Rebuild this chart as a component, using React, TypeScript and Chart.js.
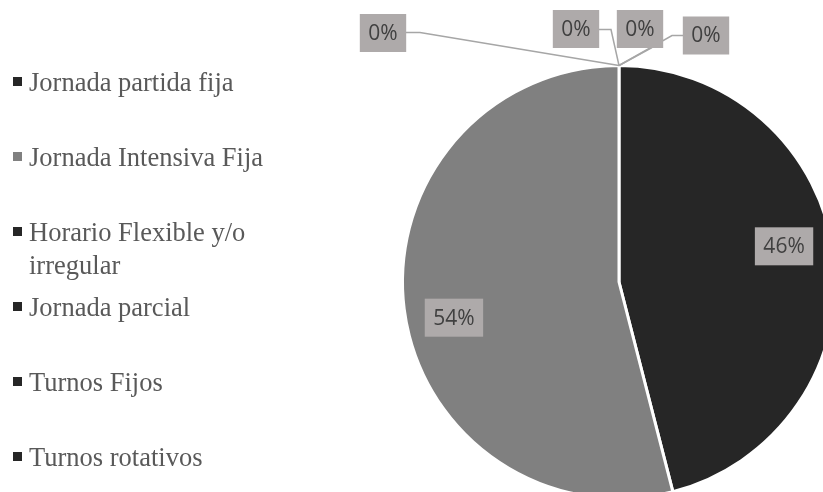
import React, { useEffect, useRef } from "react";
import { Chart, registerables } from "chart.js";

Chart.register(...registerables);

const categories = [
  "Jornada partida fija",
  "Jornada Intensiva Fija",
  "Horario Flexible y/o irregular",
  "Jornada parcial",
  "Turnos Fijos",
  "Turnos rotativos",
];
const shares = [46, 54, 0, 0, 0, 0];
const sliceColors = ["#262626", "#808080", "#262626", "#262626", "#262626", "#262626"];

// layout of the call-out boxes for the zero-valued slices (relative to the point where they sit on the pie rim)
const zeroCallouts = [
  { box: [-236, -32.5], path: [[-199, -33], [-213, -33]] },
  { box: [-43, -36.5], path: [[-8, -36], [-20, -36]] },
  { box: [21, -36.5], path: [[33, -18]] },
  { box: [87, -30], path: [[53, -30], [64, -30]] },
];

function wrapText(ctx: CanvasRenderingContext2D, text: string, maxWidth: number): string[] {
  const words = text.split(" ");
  const lines: string[] = [];
  let cur = "";
  for (const w of words) {
    const test = cur ? cur + " " + w : w;
    if (cur && ctx.measureText(test).width > maxWidth) {
      lines.push(cur);
      cur = w;
    } else {
      cur = test;
    }
  }
  if (cur) lines.push(cur);
  return lines;
}

const sideLegend = {
  id: "sideLegend",
  afterDraw(chart: any) {
    const ctx: CanvasRenderingContext2D = chart.ctx;
    const labels = chart.data.labels as string[];
    const colors = chart.data.datasets[0].backgroundColor as string[];
    ctx.save();
    ctx.font = '26.5px "Liberation Serif", "Times New Roman", serif';
    ctx.textAlign = "left";
    ctx.textBaseline = "alphabetic";
    labels.forEach((label, i) => {
      const top = 77 + i * 75;
      ctx.fillStyle = colors[i];
      ctx.fillRect(13, top, 9, 9);
      ctx.fillStyle = "#595959";
      const lines = wrapText(ctx, label, 242);
      lines.forEach((ln, j) => ctx.fillText(ln, 29, top + 14 + j * 33));
    });
    ctx.restore();
  },
};

function drawBox(ctx: CanvasRenderingContext2D, text: string, cx: number, cy: number) {
  const w = ctx.measureText(text).width + 17;
  const h = 38;
  ctx.fillStyle = "#AEAAAA";
  ctx.fillRect(cx - w / 2, cy - h / 2, w, h);
  ctx.fillStyle = "#404040";
  ctx.fillText(text, cx, cy + 1);
}

const sliceLabels = {
  id: "sliceLabels",
  afterDatasetsDraw(chart: any) {
    const ctx: CanvasRenderingContext2D = chart.ctx;
    const meta = chart.getDatasetMeta(0);
    const values = chart.data.datasets[0].data as number[];
    const total = values.reduce((a, b) => a + b, 0);
    ctx.save();
    ctx.font = '21px "Open Sans", sans-serif';
    ctx.textAlign = "center";
    ctx.textBaseline = "middle";
    const boxes: { text: string; x: number; y: number }[] = [];
    let z = 0;
    meta.data.forEach((arc: any, i: number) => {
      const v = values[i];
      const text = Math.round((v / total) * 100) + "%";
      const { x, y, startAngle, endAngle, outerRadius } = arc.getProps(
        ["x", "y", "startAngle", "endAngle", "outerRadius"],
        true
      );
      if (v > 0) {
        const a = (startAngle + endAngle) / 2 - (5 * Math.PI) / 180;
        const r = outerRadius * 0.78;
        boxes.push({ text, x: x + r * Math.cos(a), y: y + r * Math.sin(a) });
      } else {
        const c = zeroCallouts[z++ % zeroCallouts.length];
        const ax = x + outerRadius * Math.cos(startAngle);
        const ay = y + outerRadius * Math.sin(startAngle);
        ctx.strokeStyle = "#A6A6A6";
        ctx.lineWidth = 1.5;
        ctx.beginPath();
        ctx.moveTo(ax, ay);
        c.path.forEach((p) => ctx.lineTo(ax + p[0], ay + p[1]));
        ctx.stroke();
        boxes.push({ text, x: ax + c.box[0], y: ay + c.box[1] });
      }
    });
    boxes.forEach((b) => drawBox(ctx, b.text, b.x, b.y));
    ctx.restore();
  },
};

export default function App() {
  const ref = useRef<HTMLCanvasElement>(null);
  useEffect(() => {
    const canvas = ref.current!;
    const chart = new Chart(canvas, {
      type: "pie",
      data: {
        labels: categories,
        datasets: [
          {
            data: shares,
            backgroundColor: sliceColors,
            borderColor: "#ffffff",
            borderWidth: 3,
          },
        ],
      },
      options: {
        responsive: false,
        animation: false,
        layout: { padding: { left: 401, top: 64, right: 13, bottom: 20 } },
        plugins: {
          legend: { display: false },
          tooltip: { enabled: false },
        },
      },
      plugins: [sideLegend, sliceLabels],
    });
    return () => chart.destroy();
  }, []);
  return (
    <div
      style={{
        position: "absolute",
        left: 0,
        top: 0,
        width: 823,
        height: 492,
        overflow: "hidden",
        background: "#ffffff",
      }}
    >
      <canvas ref={ref} width={850} height={520} style={{ display: "block" }} />
    </div>
  );
}
